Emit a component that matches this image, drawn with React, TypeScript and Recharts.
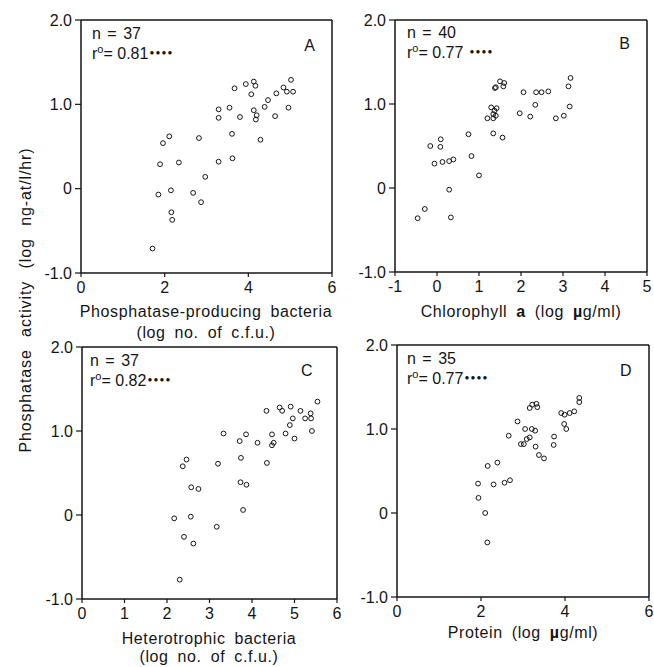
import { ReferenceLine, Scatter, ScatterChart, XAxis, YAxis } from "recharts";

const FONT = '"Liberation Sans", Arial, Helvetica, sans-serif';
const INK = "#151515";

// A: phosphatase-producing bacteria (log no. of c.f.u.)
const aX = [
  1.71, 1.85, 1.89, 1.96, 2.11, 2.15, 2.16, 2.18, 2.34, 2.68, 2.82, 2.87, 2.97,
  3.29, 3.29, 3.29, 3.55, 3.61, 3.62, 3.67, 3.8, 3.94, 4.07, 4.13, 4.17, 4.13,
  4.2, 4.18, 4.29, 4.39, 4.47, 4.64, 4.67, 4.84, 4.92, 5.02, 5.07, 4.96,
];
const aY = [
  -0.71, -0.07, 0.29, 0.54, 0.62, -0.02, -0.28, -0.37, 0.31, -0.05, 0.6, -0.16,
  0.14, 0.94, 0.84, 0.32, 0.96, 0.65, 0.36, 1.19, 0.85, 1.24, 1.12, 1.27, 1.22,
  0.93, 0.87, 0.82, 0.58, 0.97, 1.05, 0.86, 1.13, 1.2, 1.15, 1.29, 1.15, 0.96,
];

// B: chlorophyll a (log ug/ml)
const bX = [
  -0.46, -0.29, -0.16, -0.06, 0.09, 0.08, 0.13, 0.29, 0.39, 0.29, 0.33, 0.75,
  0.82, 1.0, 1.2, 1.29, 1.34, 1.42, 1.4, 1.34, 1.34, 1.4, 1.5, 1.6, 1.58, 1.56,
  1.97, 2.06, 2.22, 2.34, 2.36, 2.49, 2.65, 2.83, 3.02, 3.13, 3.18, 3.16, 1.38,
  1.37,
];
const bY = [
  -0.36, -0.25, 0.5, 0.29, 0.58, 0.49, 0.31, 0.32, 0.34, -0.02, -0.35, 0.64,
  0.38, 0.15, 0.83, 0.96, 0.88, 0.95, 0.86, 0.83, 0.65, 1.2, 1.27, 1.25, 1.21,
  0.6, 0.89, 1.14, 0.85, 0.99, 1.14, 1.14, 1.15, 0.83, 0.86, 1.21, 1.31, 0.97,
  1.19, 0.92,
];

// C: heterotrophic bacteria (log no. of c.f.u.)
const cX = [
  2.17, 2.3, 2.37, 2.4, 2.46, 2.56, 2.57, 2.62, 2.74, 3.17, 3.2, 3.33, 3.71,
  3.74, 3.73, 3.79, 3.86, 3.87, 4.13, 4.34, 4.35, 4.47, 4.47, 4.51, 4.65, 4.71,
  4.79, 4.89, 4.91, 4.96, 5.0, 5.14, 5.25, 5.38, 5.39, 5.41, 5.54,
];
const cY = [
  -0.04, -0.77, 0.58, -0.26, 0.66, -0.02, 0.33, -0.34, 0.31, -0.14, 0.61, 0.97,
  0.88, 0.68, 0.39, 0.06, 0.96, 0.36, 0.86, 1.24, 0.62, 0.96, 0.83, 0.86, 1.28,
  1.24, 0.97, 1.07, 1.29, 1.15, 0.91, 1.24, 1.15, 1.21, 1.15, 1.0, 1.35,
];

// D: protein (log ug/ml)
const dX = [
  1.93, 1.94, 2.1, 2.15, 2.16, 2.3, 2.39, 2.56, 2.69, 2.66, 2.87, 2.95, 3.02,
  3.05, 3.09, 3.16, 3.16, 3.22, 3.32, 3.34, 3.21, 3.29, 3.3, 3.38, 3.5, 3.74,
  3.73, 3.91, 3.99, 3.98, 4.03, 4.11, 4.22, 4.34, 4.34,
];
const dY = [
  0.35, 0.18, 0.0, -0.35, 0.56, 0.34, 0.6, 0.36, 0.39, 0.92, 1.09, 0.82, 0.82,
  1.0, 0.88, 0.9, 1.25, 1.29, 1.3, 1.26, 1.0, 0.98, 0.79, 0.69, 0.65, 0.91,
  0.81, 1.19, 1.17, 1.06, 1.0, 1.19, 1.21, 1.37, 1.32,
];

const yTicks = [-1, 0, 1, 2];
const aTicks = [0, 2, 4, 6];
const bTicks = [-1, 0, 1, 2, 3, 4, 5];
const cTicks = [0, 1, 2, 3, 4, 5, 6];
const dTicks = [0, 2, 4, 6];

const toPoints = (xs: number[], ys: number[]) =>
  xs.map((x, i) => ({ x, y: ys[i] }));

const fmtY = (v: number) => (v === 0 ? "0" : v.toFixed(1));

const OpenCircle = (props: any) => (
  <circle
    cx={props.cx}
    cy={props.cy}
    r={2.4}
    fill="none"
    stroke={INK}
    strokeWidth={1}
  />
);

interface PanelProps {
  left: number;
  top: number;
  right: number;
  bottom: number;
  domain: [number, number];
  ticks: number[];
  data: { x: number; y: number }[];
}

function Panel({ left, top, right, bottom, domain, ticks, data }: PanelProps) {
  const mL = 60;
  const mT = 15;
  const mR = 15;
  const xH = 30;
  const width = mL + (right - left) + mR;
  const height = mT + (bottom - top) + xH;
  const tickStyle = { fill: INK, fontSize: 16, fontFamily: FONT };

  return (
    <div style={{ position: "absolute", left: left - mL, top: top - mT }}>
      <ScatterChart
        width={width}
        height={height}
        margin={{ top: mT, right: mR, bottom: 0, left: 0 }}
      >
        <XAxis
          type="number"
          dataKey="x"
          domain={domain}
          ticks={ticks}
          interval={0}
          allowDataOverflow
          height={xH}
          tickSize={4}
          tickMargin={5}
          tick={tickStyle}
          tickLine={{ stroke: INK, strokeWidth: 1.2 }}
          axisLine={{ stroke: INK, strokeWidth: 1.5 }}
        />
        <YAxis
          type="number"
          dataKey="y"
          domain={[-1, 2]}
          ticks={yTicks}
          interval={0}
          allowDataOverflow
          width={mL}
          tickSize={6}
          tickMargin={3}
          tickFormatter={fmtY}
          tick={tickStyle}
          tickLine={{ stroke: INK, strokeWidth: 1.2 }}
          axisLine={{ stroke: INK, strokeWidth: 1.5 }}
        />
        <ReferenceLine y={2} stroke={INK} strokeWidth={1.5} />
        <ReferenceLine x={domain[1]} stroke={INK} strokeWidth={1.5} />
        <Scatter data={data} shape={OpenCircle} isAnimationActive={false} />
      </ScatterChart>
    </div>
  );
}

function Stats({ x, y, n, r, gap }: { x: number; y: number; n: string; r: string; gap?: boolean }) {
  return (
    <text x={x} fontSize={16} fontFamily={FONT} fill={INK}>
      <tspan x={x} y={y} wordSpacing={2}>{`n = ${n}`}</tspan>
      <tspan x={x} y={y + 20}>r</tspan>
      <tspan dy={-6} fontSize={11}>o</tspan>
      <tspan dy={6}>{`= ${r}`}</tspan>
      <tspan fontSize={8} letterSpacing={1.2} dy={-4} dx={gap ? 6 : 1}>
        ●●●●
      </tspan>
    </text>
  );
}

export default function App() {
  const title = {
    fontSize: 16,
    fontFamily: FONT,
    fill: INK,
    letterSpacing: 0.6,
    wordSpacing: 4,
    textAnchor: "middle" as const,
  };

  return (
    <div
      style={{
        position: "absolute",
        left: 0,
        top: 0,
        width: 654,
        height: 667,
        background: "#fff",
      }}
    >
      <Panel left={81} top={20} right={332} bottom={273} domain={[0, 6]} ticks={aTicks} data={toPoints(aX, aY)} />
      <Panel left={395} top={20} right={647} bottom={272} domain={[-1, 5]} ticks={bTicks} data={toPoints(bX, bY)} />
      <Panel left={82} top={347} right={337} bottom={599} domain={[0, 6]} ticks={cTicks} data={toPoints(cX, cY)} />
      <Panel left={397} top={345} right={649} bottom={597} domain={[0, 6]} ticks={dTicks} data={toPoints(dX, dY)} />

      <svg
        width={654}
        height={667}
        style={{ position: "absolute", left: 0, top: 0, pointerEvents: "none" }}
      >
        <text
          {...title}
          transform="translate(31 300) rotate(-90)"
          letterSpacing={0.9}
          wordSpacing={7}
        >
          Phosphatase activity (log ng-at/l/hr)
        </text>

        <text {...title} x={206} y={317}>Phosphatase-producing bacteria</text>
        <text {...title} x={206} y={338}>(log no. of c.f.u.)</text>
        <text {...title} x={521} y={317}>
          Chlorophyll <tspan fontWeight="bold">a</tspan> (log <tspan fontWeight="bold">µ</tspan>g/ml)
        </text>
        <text {...title} x={209} y={644}>Heterotrophic bacteria</text>
        <text {...title} x={209} y={662}>(log no. of c.f.u.)</text>
        <text {...title} x={523} y={638}>
          Protein (log <tspan fontWeight="bold">µ</tspan>g/ml)
        </text>

        <Stats x={92} y={39} n="37" r="0.81" />
        <Stats x={407} y={38} n="40" r="0.77" gap />
        <Stats x={90} y={366} n="37" r="0.82" />
        <Stats x={407} y={364} n="35" r="0.77" />

        <text {...title} x={310} y={51}>A</text>
        <text {...title} x={625} y={49}>B</text>
        <text {...title} x={307} y={376}>C</text>
        <text {...title} x={626} y={376}>D</text>
      </svg>
    </div>
  );
}
